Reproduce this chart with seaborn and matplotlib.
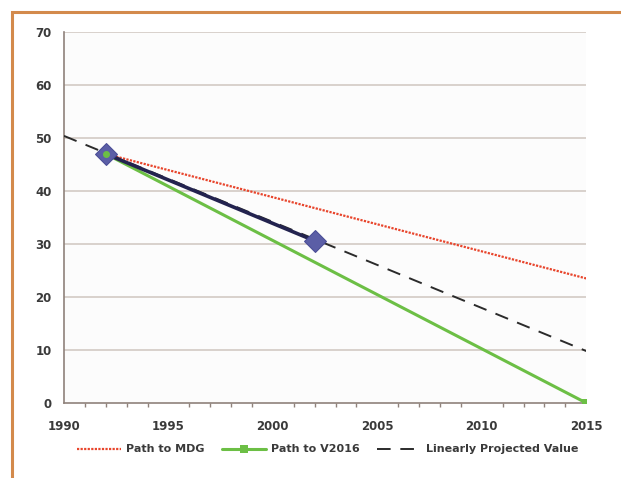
import matplotlib
matplotlib.use("Agg")
import matplotlib.pyplot as plt
from matplotlib.patches import Rectangle
from matplotlib.ticker import MultipleLocator
import pandas as pd
import seaborn as sns

# ── data ───────────────────────────────────────────────────
obs_years = [1992, 2002]
obs_values = [47.0, 30.6]

mdg_years = [1992, 2015]
mdg_values = [47.0, 23.5]

v2016_years = [1992, 2015]
v2016_values = [47.0, 0.0]

proj_years = [1990, 2015]
proj_values = [50.4, 9.8]

sns.set_theme(style="white")
plt.rcParams["font.family"] = ["DejaVu Sans"]

fig = plt.figure(figsize=(6.21, 4.78), dpi=100)
ax = fig.add_axes([0.103, 0.157, 0.841, 0.776])
ax.set_facecolor("#fcfcfc")

grid_c = "#d9d1cc"
spine_c = "#8f827b"
txt_c = "#3a3a3a"

for y in range(10, 71, 10):
    ax.axhline(y, color=grid_c, lw=1.4, zorder=0)

df_mdg = pd.DataFrame({"year": mdg_years, "value": mdg_values})
df_v = pd.DataFrame({"year": v2016_years, "value": v2016_values})
df_p = pd.DataFrame({"year": proj_years, "value": proj_values})
df_o = pd.DataFrame({"year": obs_years, "value": obs_values})

sns.lineplot(data=df_mdg, x="year", y="value", ax=ax, color="#e8452c",
             lw=1.6, linestyle=(0, (1, 0.6)), label="Path to MDG", zorder=3)
sns.lineplot(data=df_v, x="year", y="value", ax=ax, color="#6cbf45",
             lw=2.2, marker="s", markersize=6, markeredgewidth=0,
             label="Path to V2016", zorder=3)
sns.lineplot(data=df_p, x="year", y="value", ax=ax, color="#2b2b2b",
             lw=1.4, linestyle=(0, (7, 5)), label="Linearly Projected Value",
             zorder=4)
sns.lineplot(data=df_o, x="year", y="value", ax=ax, color="#23234f",
             lw=2.6, marker="D", markersize=11, markerfacecolor="#5b5ea6",
             markeredgecolor="#4a4d96", legend=False, zorder=5)
# green dot inside first diamond
ax.plot([v2016_years[0]], [v2016_values[0]], "o", color="#6cbf45",
        markersize=4, zorder=6)

ax.set_xlim(1990, 2015)
ax.set_ylim(0, 70)
ax.xaxis.set_major_locator(MultipleLocator(5))
ax.xaxis.set_minor_locator(MultipleLocator(1))
ax.yaxis.set_major_locator(MultipleLocator(10))
ax.set_xlabel("")
ax.set_ylabel("")

for s in ["top", "right"]:
    ax.spines[s].set_visible(False)
for s in ["left", "bottom"]:
    ax.spines[s].set_color(spine_c)
    ax.spines[s].set_linewidth(1.2)

ax.tick_params(axis="both", which="major", direction="out", length=5,
               width=1.1, color=spine_c, labelsize=8.5, labelcolor=txt_c,
               pad=4)
ax.tick_params(axis="x", which="minor", bottom=True, direction="out",
               length=3, width=1.0, color=spine_c)
ax.tick_params(axis="x", which="major", pad=7)
for lab in ax.get_xticklabels() + ax.get_yticklabels():
    lab.set_fontweight("bold")

leg = ax.legend(loc="upper center", bbox_to_anchor=(0.505, -0.085), ncol=3,
                frameon=False, fontsize=8, handlelength=4.0,
                columnspacing=1.6, handletextpad=0.4)
for t in leg.get_texts():
    t.set_color(txt_c)
    t.set_fontweight("bold")

# orange frame along the top and left
fig.add_artist(Rectangle((0.019, -0.05), 1.1, 1.025,
                         transform=fig.transFigure, fill=False,
                         edgecolor="#d38a4c", lw=2.2))

fig.savefig("out.png", dpi=100, facecolor="white")
